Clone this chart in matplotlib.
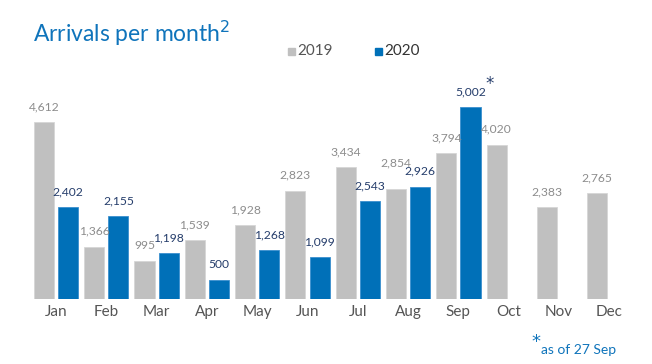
import matplotlib.pyplot as plt
import numpy as np

plt.rcParams['font.family'] = ['Lato', 'DejaVu Sans']

# Arrivals per month
months = ["Jan", "Feb", "Mar", "Apr", "May", "Jun",
          "Jul", "Aug", "Sep", "Oct", "Nov", "Dec"]
arrivals_2019 = [4612, 1366, 995, 1539, 1928, 2823, 3434, 2854, 3794, 4020, 2383, 2765]
arrivals_2020 = [2402, 2155, 1198, 500, 1268, 1099, 2543, 2926, 5002]

gray = "#c0c0c0"
blue = "#0070b8"
gray_txt = "#8c8c8c"
navy_txt = "#253d6b"

fig = plt.figure(figsize=(6.52, 3.64), dpi=100)
ax = fig.add_axes([0, 65 / 364, 1, 299 / 364])

x = np.arange(len(months))
x20 = np.arange(len(arrivals_2020))
w = 0.40
off = 0.24

ax.bar(x - off, arrivals_2019, w, color=gray, edgecolor="#d6d6d6", linewidth=0.6)
ax.bar(x20 + off, arrivals_2020, w, color=blue, edgecolor="#3a8fce", linewidth=0.6)

# Aug 2019 label sits higher so it clears the 2020 label next to it
extra_up = {7: 8}
for i, (xi, v) in enumerate(zip(x - off, arrivals_2019)):
    ax.annotate(f"{v:,}", (xi, v), xytext=(0, 7 + extra_up.get(i, 0)),
                textcoords="offset points", ha="center", va="bottom",
                fontsize=8.7, color=gray_txt)
for xi, v in zip(x20 + off, arrivals_2020):
    ax.annotate(f"{v:,}", (xi, v), xytext=(0, 7), textcoords="offset points",
                ha="center", va="bottom", fontsize=8.7, color=navy_txt)
# asterisk for the partial month
ax.annotate("*", (x20[-1] + off, arrivals_2020[-1]), xytext=(14, 10),
            textcoords="offset points", ha="center", va="bottom",
            fontsize=12, color=navy_txt, family="DejaVu Sans")

ax.set_xlim(-56 / 50.3, (652 - 56) / 50.3)
ax.set_ylim(0, 299 / 0.0384)
ax.set_xticks(x)
ax.set_xticklabels(months, fontsize=11, color="#555555")
ax.tick_params(axis="x", length=0, pad=4)
ax.set_yticks([])
for s in ax.spines.values():
    s.set_visible(False)
ax.patch.set_alpha(0)

fig.text(33 / 652, 1 - 33 / 364, "Arrivals per month$^2$", fontsize=16.5,
         color="#0f74bb", ha="left", va="center")

# legend
fig.patches.append(plt.Rectangle((288 / 652, 1 - 55 / 364), 7 / 652, 7 / 364,
                                 transform=fig.transFigure, color=gray))
fig.text(297 / 652, 1 - 51 / 364, "2019", fontsize=11, color="#555555",
         ha="left", va="center")
fig.patches.append(plt.Rectangle((375 / 652, 1 - 55 / 364), 7 / 652, 7 / 364,
                                 transform=fig.transFigure, color=blue))
fig.text(384 / 652, 1 - 51 / 364, "2020", fontsize=11, color="#333333",
         ha="left", va="center")

# footnote
fig.text(531 / 652, 1 - 342 / 364, "*", fontsize=13, color="#0f74bb",
         ha="left", va="center", family="DejaVu Sans")
fig.text(541 / 652, 1 - 350 / 364, "as of 27 Sep", fontsize=10,
         color="#0f74bb", ha="left", va="center")

fig.savefig("out.png", dpi=100)
